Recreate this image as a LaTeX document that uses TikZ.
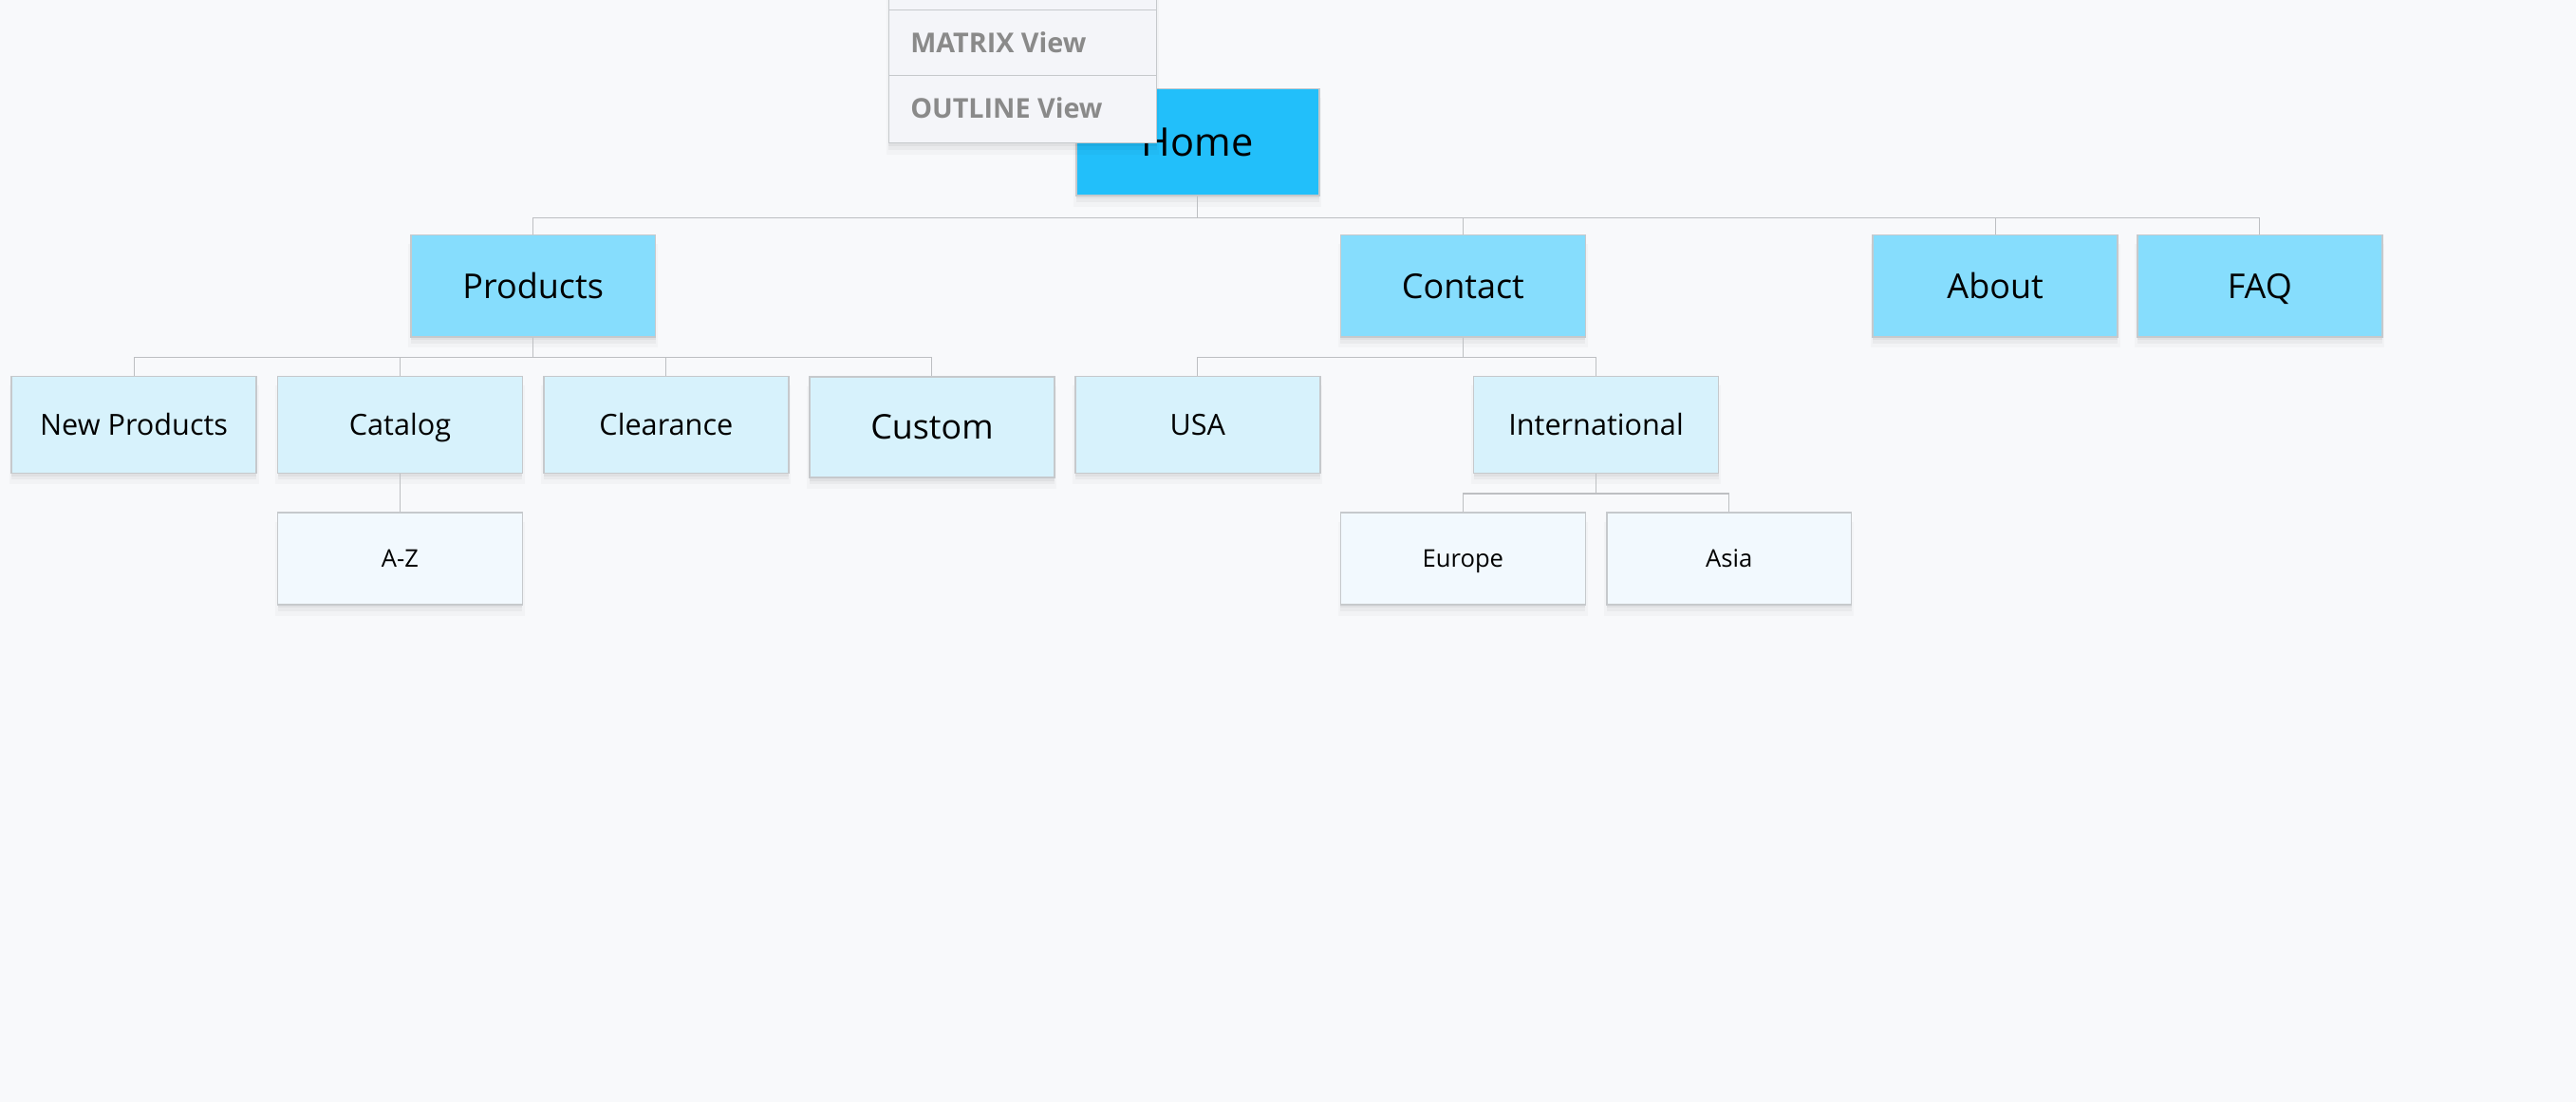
\documentclass[tikz,border=0pt]{standalone}
\usepackage{fontspec}
\setmainfont{Open Sans}
\usetikzlibrary{shadows}
\definecolor{bgc}{HTML}{F8F9FB}
\definecolor{homec}{HTML}{22BFFA}
\definecolor{lonec}{HTML}{86DDFD}
\definecolor{ltwoc}{HTML}{D7F2FC}
\definecolor{lthreec}{HTML}{F2F9FE}
\definecolor{bordc}{HTML}{C6C9CC}
\definecolor{linec}{HTML}{BDBFC2}
\definecolor{menuc}{HTML}{F4F5F9}
\definecolor{menutxt}{HTML}{8A8A8A}
\tikzset{
  softshadow/.style={
    general shadow={fill=black, opacity=0.025, shadow yshift=-6pt, shadow xshift=0pt, shadow scale=1.02},
    general shadow={fill=black, opacity=0.035, shadow yshift=-4pt, shadow xshift=0pt},
    general shadow={fill=black, opacity=0.04, shadow yshift=-2pt, shadow xshift=0pt}},
  box/.style={draw=bordc, line width=0.9pt, inner sep=0pt, minimum width=149pt, text depth=0pt, text=black, softshadow},
  lvlzero/.style={box, fill=homec, minimum width=148pt, minimum height=65pt, font=\fontsize{24}{28}\selectfont, text height=17.1pt},
  lvlone/.style={box, fill=lonec, minimum height=62pt, font=\fontsize{20.8}{24}\selectfont, text height=14.85pt},
  lvltwo/.style={box, fill=ltwoc, minimum height=59pt, font=\fontsize{17.7}{21}\selectfont, text height=12.6pt},
  lvlthree/.style={box, fill=lthreec, minimum height=56pt, font=\fontsize{14.8}{18}\selectfont, text height=10.6pt},
  conn/.style={draw=linec, line width=0.65pt},
  menutext/.style={anchor=west, inner sep=0pt, text=menutxt, font=\bfseries\fontsize{16.6}{20}\selectfont, text height=11.85pt, text depth=0pt},
}
\begin{document}
\begin{tikzpicture}[x=1pt, y=-1pt]
\fill[bgc] (0,0) rectangle (1568,671);
\useasboundingbox (0,0) rectangle (1568,671);

% level 0
\node[lvlzero] (home) at (729,86.5) {Home};
% level 1
\node[lvlone] (products) at (324.5,174) {Products};
\node[lvlone] (contact) at (890.5,174) {Contact};
\node[lvlone] (about) at (1214.5,174) {About};
\node[lvlone] (faq) at (1375.5,174) {FAQ};
% level 2
\node[lvltwo] (newprod) at (81.5,258.5) {New Products};
\node[lvltwo] (catalog) at (243.5,258.5) {Catalog};
\node[lvltwo] (clearance) at (405.5,258.5) {Clearance};
\node[lvltwo, minimum height=61.3pt, font=\fontsize{20.7}{24}\selectfont, text height=14.8pt] (custom) at (567.3,260) {Custom};
\node[lvltwo] (usa) at (729,258.5) {USA};
\node[lvltwo] (intl) at (971.5,258.5) {International};
% level 3
\node[lvlthree] (az) at (243.5,340) {A-Z};
\node[lvlthree] (europe) at (890.5,340) {Europe};
\node[lvlthree] (asia) at (1052.5,340) {Asia};

% connectors
\foreach \c in {products,contact,about,faq}
  \draw[conn] (home.south) -- ++(0,13) -| (\c.north);
\foreach \c in {newprod,catalog,clearance,custom}
  \draw[conn] (products.south) -- ++(0,12) -| (\c.north);
\foreach \c in {usa,intl}
  \draw[conn] (contact.south) -- ++(0,12) -| (\c.north);
\draw[conn] (catalog.south) -- (az.north);
\foreach \c in {europe,asia}
  \draw[conn] (intl.south) -- ++(0,12) -| (\c.north);

% dropdown menu
\node[draw=bordc, line width=0.9pt, fill=menuc, inner sep=0pt, minimum width=163pt, minimum height=97pt, softshadow] (menu) at (622.5,38.5) {};
\coordinate (sepa) at (541,6);
\coordinate (sepb) at (541,46);
\draw[draw=bordc, line width=0.9pt] (sepa) -- (sepa -| menu.east);
\draw[draw=bordc, line width=0.9pt] (sepb) -- (sepb -| menu.east);
\node[menutext] (matrix) at (554,26) {MATRIX View};
\node[menutext] (outline) at (554,66) {OUTLINE View};
\end{tikzpicture}
\end{document}
